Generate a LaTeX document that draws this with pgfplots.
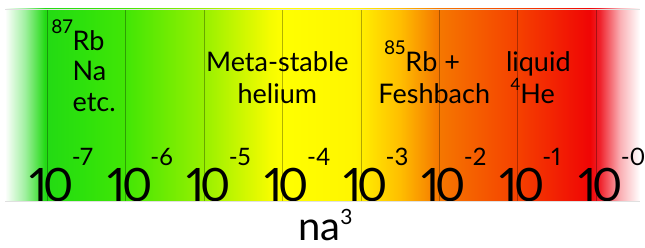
\documentclass[border=0pt]{standalone}
\usepackage{pgfplots}
\pgfplotsset{compat=1.18}
\usepackage{fontspec}
\setmainfont{Lato}[Numbers=Proportional]
\usetikzlibrary{calc}

\definecolor{c01}{RGB}{160,240,160}
\definecolor{c02}{RGB}{35,218,20}
\definecolor{c03}{RGB}{45,225,12}
\definecolor{c04}{RGB}{65,230,5}
\definecolor{c05}{RGB}{150,240,0}
\definecolor{c06}{RGB}{245,252,0}
\definecolor{c07}{RGB}{255,255,0}
\definecolor{c08}{RGB}{255,245,0}
\definecolor{c09}{RGB}{255,190,0}
\definecolor{c10}{RGB}{245,120,0}
\definecolor{c11}{RGB}{245,65,0}
\definecolor{c12}{RGB}{240,5,5}
\definecolor{c13}{RGB}{240,35,45}
\definecolor{c14}{RGB}{250,175,180}

\pgfdeclarehorizontalshading{band}{100bp}{%
color(0bp)=(white); color(25bp)=(white);
color(26.57bp)=(c01); color(28.15bp)=(c02); color(31.0bp)=(c03);
color(34.45bp)=(c04); color(40.59bp)=(c05); color(45.87bp)=(c06);
color(46.81bp)=(c07); color(52.6bp)=(c08); color(56.1bp)=(c09);
color(59.09bp)=(c10); color(65.31bp)=(c11); color(71.06bp)=(c12);
color(71.85bp)=(c13); color(73.43bp)=(c14);
color(75bp)=(white); color(100bp)=(white)}

\newcommand{\dec}[1]{{\fontsize{46bp}{46bp}\selectfont 1\kern-4bp 0\kern-2bp\raisebox{36bp}{\fontsize{24bp}{24bp}\selectfont #1}}}
\newcommand{\lab}{\fontsize{27bp}{27bp}\selectfont}
\newcommand{\hsup}[1]{\llap{\raisebox{17bp}{\fontsize{19bp}{19bp}\selectfont #1}}}
\newcommand{\lsup}[1]{\llap{\raisebox{13bp}{\fontsize{17bp}{17bp}\selectfont #1}}}

\begin{document}
\begin{tikzpicture}
\begin{axis}[
  scale only axis,
  width=635bp, height=192bp,
  xmin=-7.54, xmax=0.56, ymin=0, ymax=1,
  axis on top,
  axis x line=box, axis y line=none,
  axis line style={black!12, line width=0.8bp},
  xtick={-7,-6,-5,-4,-3,-2,-1,0},
  xticklabels={},
  ytick=\empty,
  tick style={draw=none},
  xmajorgrids,
  grid style={black, opacity=0.3, line width=0.6bp},
  clip=false,
]
\addplot[draw=none, shading=band] coordinates {(-7.54,1) (0.56,1)} \closedcycle;

\node[anchor=base west, inner sep=0] at (axis cs:-7.23,0) {\dec{-7}};
\node[anchor=base west, inner sep=0] at (axis cs:-6.23,0) {\dec{-6}};
\node[anchor=base west, inner sep=0] at (axis cs:-5.23,0) {\dec{-5}};
\node[anchor=base west, inner sep=0] at (axis cs:-4.23,0) {\dec{-4}};
\node[anchor=base west, inner sep=0] at (axis cs:-3.23,0) {\dec{-3}};
\node[anchor=base west, inner sep=0] at (axis cs:-2.23,0) {\dec{-2}};
\node[anchor=base west, inner sep=0] at (axis cs:-1.23,0) {\dec{-1}};
\node[anchor=base west, inner sep=0] at (axis cs:-0.23,0) {\dec{-0}};

\node[anchor=base west, inner sep=0] at (axis cs:-6.68,0.786) {\lab\hsup{87}Rb};
\node[anchor=base west, inner sep=0] at (axis cs:-6.68,0.625) {\lab Na};
\node[anchor=base west, inner sep=0] at (axis cs:-6.68,0.464) {\lab etc.};

\node[anchor=base, inner sep=0] at (axis cs:-4.066,0.672) {\lab Meta-stable};
\node[anchor=base, inner sep=0] at (axis cs:-4.066,0.510) {\lab helium};

\node[anchor=base west, inner sep=0] at (axis cs:-2.434,0.672) {\lab\hsup{85}Rb +};
\node[anchor=base, inner sep=0] at (axis cs:-2.064,0.510) {\lab Feshbach};

\node[anchor=base, inner sep=0] at (axis cs:-0.737,0.672) {\lab liquid};
\node[anchor=base west, inner sep=0] at (axis cs:-0.967,0.510) {\lab\lsup{4}He};

\node[anchor=base, inner sep=0, yshift=-39bp] at (axis cs:-3.454,0) {{\fontsize{40bp}{40bp}\selectfont na\raisebox{16bp}{\fontsize{21bp}{21bp}\selectfont 3}}};
\end{axis}
\pgfresetboundingbox
\path[use as bounding box] ($(current axis.south west)+(-5bp,-46bp)$) rectangle ($(current axis.north east)+(5bp,9bp)$);
\end{tikzpicture}
\end{document}
